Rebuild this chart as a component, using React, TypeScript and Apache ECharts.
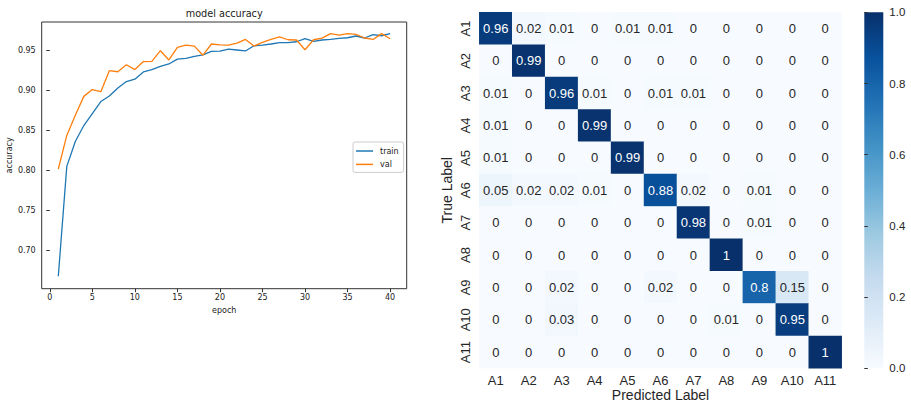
import React, { useEffect, useRef } from "react";
import * as echarts from "echarts";

const epochs = Array.from({ length: 40 }, (_, i) => i + 1);
const trainAcc = [0.6675, 0.805, 0.836, 0.856, 0.871, 0.886, 0.893, 0.903, 0.911, 0.914, 0.923, 0.926, 0.930, 0.933, 0.939, 0.940, 0.9425, 0.9445, 0.9487, 0.949, 0.9517, 0.9505, 0.9493, 0.9558, 0.9567, 0.958, 0.9596, 0.9596, 0.9608, 0.9646, 0.9612, 0.963, 0.9637, 0.965, 0.9658, 0.968, 0.9655, 0.9696, 0.9683, 0.971];
const valAcc = [0.8017, 0.8437, 0.869, 0.8925, 0.901, 0.8984, 0.9246, 0.9233, 0.932, 0.926, 0.936, 0.9363, 0.9496, 0.938, 0.9537, 0.9567, 0.9554, 0.944, 0.958, 0.957, 0.9567, 0.9592, 0.9637, 0.9554, 0.96, 0.9637, 0.967, 0.9633, 0.963, 0.9508, 0.9633, 0.9654, 0.971, 0.9692, 0.971, 0.970, 0.9655, 0.9637, 0.971, 0.9646];
const epochTicks = [0, 5, 10, 15, 20, 25, 30, 35, 40];
const accTicks = [0.7, 0.75, 0.8, 0.85, 0.9, 0.95];

const classLabels = ["A1", "A2", "A3", "A4", "A5", "A6", "A7", "A8", "A9", "A10", "A11"];
const confusion = [
  [0.96, 0.02, 0.01, 0, 0.01, 0.01, 0, 0, 0, 0, 0],
  [0, 0.99, 0, 0, 0, 0, 0, 0, 0, 0, 0],
  [0.01, 0, 0.96, 0.01, 0, 0.01, 0.01, 0, 0, 0, 0],
  [0.01, 0, 0, 0.99, 0, 0, 0, 0, 0, 0, 0],
  [0.01, 0, 0, 0, 0.99, 0, 0, 0, 0, 0, 0],
  [0.05, 0.02, 0.02, 0.01, 0, 0.88, 0.02, 0, 0.01, 0, 0],
  [0, 0, 0, 0, 0, 0, 0.98, 0, 0.01, 0, 0],
  [0, 0, 0, 0, 0, 0, 0, 1, 0, 0, 0],
  [0, 0, 0.02, 0, 0, 0.02, 0, 0, 0.8, 0.15, 0],
  [0, 0, 0.03, 0, 0, 0, 0, 0.01, 0, 0.95, 0],
  [0, 0, 0, 0, 0, 0, 0, 0, 0, 0, 1],
];

const blues = ["#f7fbff", "#deebf7", "#c6dbef", "#9ecae1", "#6baed6", "#4292c6", "#2171b5", "#08519c", "#08306b"];

export default function App() {
  const ref = useRef<HTMLDivElement>(null);
  useEffect(() => {
    if (!ref.current) return;
    const chart = echarts.init(ref.current, undefined, { renderer: "svg" });

    const heatData: any[] = [];
    confusion.forEach((row, r) =>
      row.forEach((v, c) => {
        heatData.push({ value: [c, r, v], label: { color: v > 0.5 ? "#ffffff" : "#262626" } });
      })
    );

    const mplFont = "DejaVu Sans";
    const snsFont = "Liberation Sans";

    const hL = 479.3, hT = 12.3, hW = 362.4, hH = 356;
    const cbL = 864.3, cbW = 19;

    chart.setOption({
      animation: false,
      backgroundColor: "#ffffff",
      legend: {
        data: ["train", "val"],
        orient: "vertical",
        left: 353,
        top: 142,
        padding: [4, 5, 3, 3],
        icon: "rect",
        itemWidth: 17,
        itemHeight: 1.5,
        itemGap: 3.4,
        borderColor: "#cccccc",
        borderWidth: 1,
        borderRadius: 2,
        backgroundColor: "#ffffff",
        textStyle: { fontFamily: mplFont, fontSize: 8, color: "#222", padding: [0, 0, 0, 2], lineHeight: 10 },
      },
      grid: [
        { left: 41.7, top: 22, width: 365, height: 266.7, show: true, borderColor: "#333", borderWidth: 1, backgroundColor: "#fff", containLabel: false, outerBoundsMode: "none" },
        { left: hL, top: hT, width: hW, height: hH, containLabel: false, outerBoundsMode: "none" },
        { left: cbL, top: hT, width: cbW, height: hH, containLabel: false, outerBoundsMode: "none" },
      ],
      xAxis: [
        {
          type: "value",
          gridIndex: 0,
          min: -0.95,
          max: 41.95,
          name: "epoch",
          nameLocation: "middle",
          nameGap: 16,
          nameTextStyle: { fontFamily: mplFont, fontSize: 8, color: "#222" },
          axisLine: { show: false },
          splitLine: { show: false },
          axisTick: { show: true, customValues: epochTicks, length: 3.5, lineStyle: { color: "#333" } },
          axisLabel: { customValues: epochTicks, fontFamily: mplFont, fontSize: 8, color: "#222", margin: 5 },
        },
        {
          type: "category",
          gridIndex: 1,
          data: classLabels,
          position: "bottom",
          axisLine: { show: false },
          axisTick: { show: false },
          splitLine: { show: false },
          axisLabel: { fontFamily: snsFont, fontSize: 13, color: "#262626", margin: 6 },
        },
        {
          type: "value",
          gridIndex: 2,
          min: 0,
          max: 1,
          show: false,
        },
      ],
      yAxis: [
        {
          type: "value",
          gridIndex: 0,
          min: 0.652,
          max: 0.9855,
          name: "accuracy",
          nameLocation: "middle",
          nameGap: 27,
          nameTextStyle: { fontFamily: mplFont, fontSize: 8, color: "#222" },
          axisLine: { show: false },
          splitLine: { show: false },
          axisTick: { show: true, customValues: accTicks, length: 3.5, lineStyle: { color: "#333" } },
          axisLabel: {
            customValues: accTicks,
            fontFamily: mplFont,
            fontSize: 8,
            color: "#222",
            margin: 6,
            formatter: (v: number) => v.toFixed(2),
          },
        },
        {
          type: "category",
          gridIndex: 1,
          data: classLabels,
          inverse: true,
          name: "True Label",
          nameLocation: "middle",
          nameRotate: 90,
          nameGap: 25,
          nameTextStyle: { fontFamily: snsFont, fontSize: 14, color: "#262626" },
          axisLine: { show: false },
          axisTick: { show: false },
          splitLine: { show: false },
          axisLabel: { fontFamily: snsFont, fontSize: 13, color: "#262626", margin: 7, rotate: 90 },
        },
        {
          type: "value",
          gridIndex: 2,
          position: "right",
          min: 0,
          max: 1,
          interval: 0.2,
          axisLine: { show: false },
          splitLine: { show: false },
          axisTick: { show: true, length: 3.5, lineStyle: { color: "#333" } },
          axisLabel: { fontFamily: snsFont, fontSize: 11.5, color: "#262626", margin: 6, formatter: (v: number) => v.toFixed(1) },
        },
      ],
      visualMap: {
        show: false,
        type: "continuous",
        seriesIndex: 2,
        min: 0,
        max: 1,
        inRange: { color: blues },
      },
      graphic: [
        {
          type: "text",
          x: 224.2,
          y: 13,
          style: {
            text: "model accuracy",
            fontFamily: mplFont,
            fontSize: 9.7,
            fill: "#222",
            textAlign: "center",
            textVerticalAlign: "middle",
          },
        },
        {
          type: "text",
          x: hL + hW / 2,
          y: 394.5,
          style: {
            text: "Predicted Label",
            fontFamily: snsFont,
            fontSize: 14,
            fill: "#262626",
            textAlign: "center",
            textVerticalAlign: "middle",
          },
        },
        {
          type: "rect",
          shape: { x: cbL, y: hT, width: cbW, height: hH },
          style: {
            fill: new echarts.graphic.LinearGradient(0, 0, 0, 1,
              blues.slice().reverse().map((c, i) => ({ offset: i / (blues.length - 1), color: c }))),
          },
          z: 0,
        },
      ],
      series: [
        {
          name: "train",
          type: "line",
          xAxisIndex: 0,
          yAxisIndex: 0,
          data: epochs.map((e, i) => [e, trainAcc[i]]),
          symbol: "none",
          lineStyle: { color: "#1f77b4", width: 1.3 },
          itemStyle: { color: "#1f77b4" },
        },
        {
          name: "val",
          type: "line",
          xAxisIndex: 0,
          yAxisIndex: 0,
          data: epochs.map((e, i) => [e, valAcc[i]]),
          symbol: "none",
          lineStyle: { color: "#ff7f0e", width: 1.3 },
          itemStyle: { color: "#ff7f0e" },
        },
        {
          name: "confusion",
          type: "heatmap",
          xAxisIndex: 1,
          yAxisIndex: 1,
          data: heatData,
          label: {
            show: true,
            fontFamily: snsFont,
            fontSize: 13,
            formatter: (p: any) => String(p.value[2]),
          },
          emphasis: { disabled: true },
        },
      ],
    });
    return () => chart.dispose();
  }, []);

  return <div ref={ref} style={{ position: "fixed", left: 0, top: 0, width: 911, height: 404 }} />;
}
